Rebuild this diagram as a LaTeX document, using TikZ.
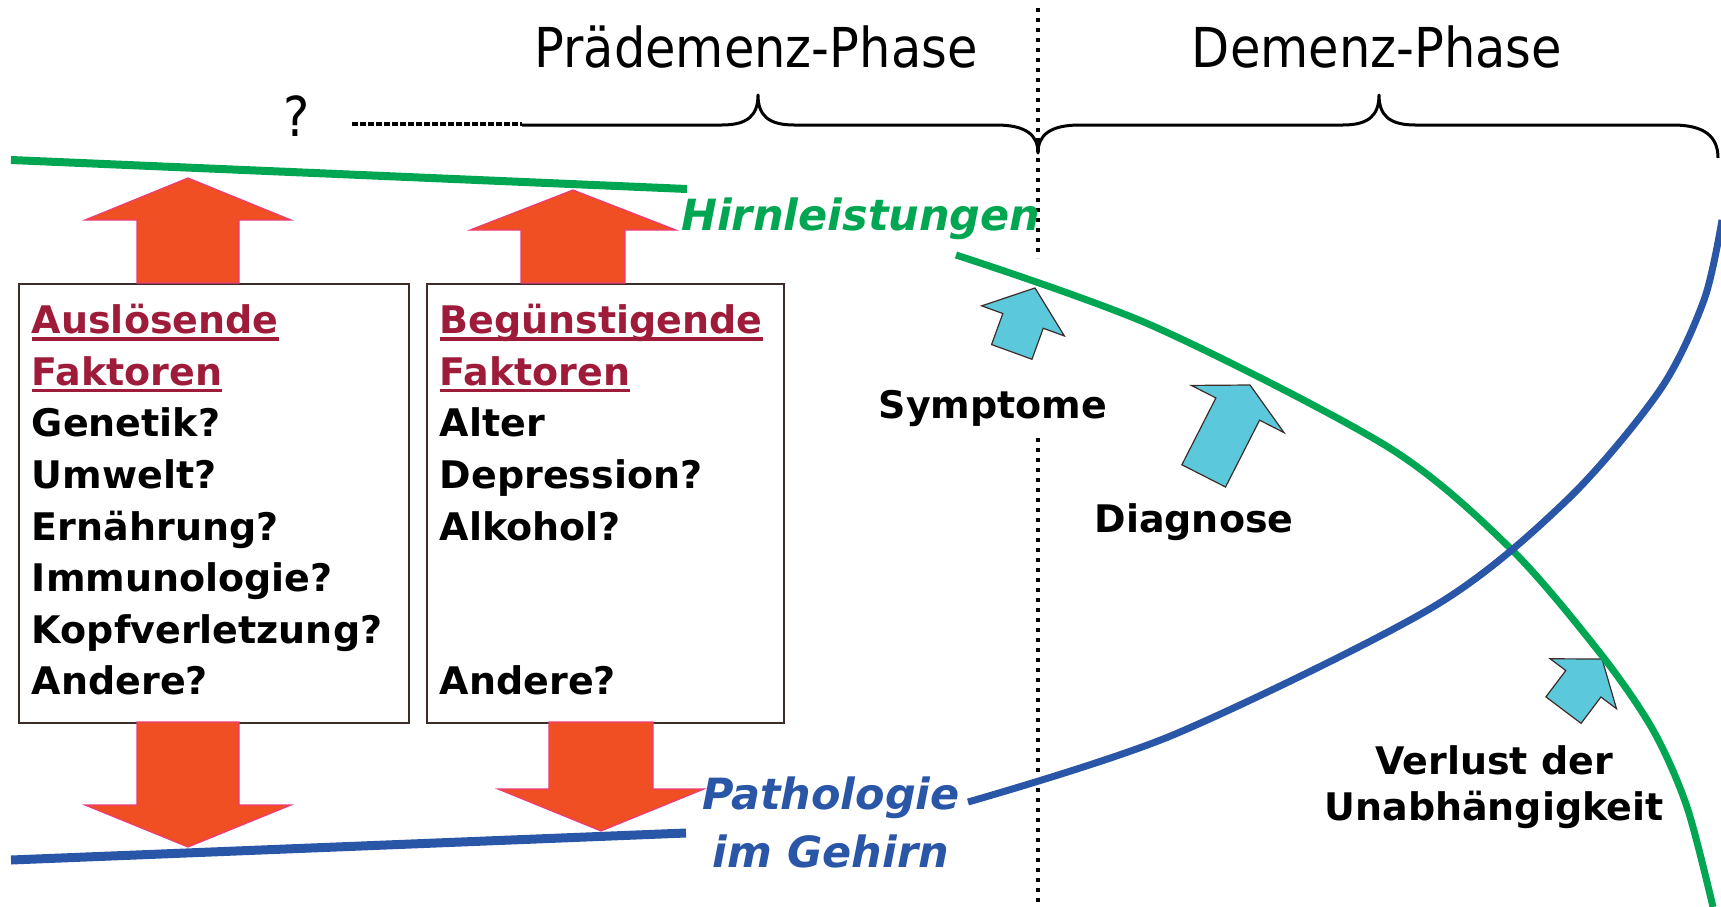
\documentclass[tikz,border=0pt]{standalone}
\usepackage{fontspec}
\setmainfont{DejaVu Sans}
\newfontfamily\phasefont{DejaVu Sans}[FakeStretch=0.9]
\usepackage{xcolor}
\usetikzlibrary{positioning}

\definecolor{brainGreen}{RGB}{0,166,81}
\definecolor{pathBlue}{RGB}{41,86,166}
\definecolor{factorRed}{RGB}{240,78,35}
\definecolor{factorPink}{RGB}{236,60,120}
\definecolor{markCyan}{RGB}{92,200,220}
\definecolor{hdred}{RGB}{158,27,58}
\definecolor{boxEdge}{RGB}{60,45,40}

% underlined box heading
\newcommand\hdr[1]{\leavevmode\textcolor{hdred}{\setbox0\hbox{#1}\rlap{\rule[-7pt]{\wd0}{3.5pt}}\box0}}
% last line of a box, a bit deeper
\newcommand\lastline[1]{#1\rule[-7.6pt]{0pt}{7.6pt}}
% tilted marker arrow: head length, head width, shaft width, length
\newcommand\markarrow[4]{%
  \filldraw[markstyle] (0,0) -- (#2/2,#1) -- (#3/2,#1) -- (#3/2,#4) -- (-#3/2,#4) -- (-#3/2,#1) -- (-#2/2,#1) -- cycle;}

\tikzset{
  factorbox/.style={draw=boxEdge, line width=1.8pt, anchor=north west, minimum height=439pt,
    inner xsep=13pt, align=left, text=black, font=\fontsize{38}{51.6}\selectfont\bfseries},
  factorarrow/.style={fill=factorRed, draw=factorPink, line width=1.2pt},
  markstyle/.style={fill=markCyan, draw=boxEdge, line width=1.2pt},
  phase/.style={font=\phasefont\fontsize{55}{60}\selectfont, inner sep=0pt, anchor=base},
  event/.style={font=\fontsize{38}{46}\selectfont\bfseries, inner sep=0pt, align=center},
  curvelabel/.style={font=\fontsize{43}{58}\selectfont\bfseries\itshape, inner sep=0pt, align=center},
  brace/.style={line width=3pt, line join=round},
  divider/.style={line width=4.5pt, dash pattern=on 4pt off 6pt},
}

\begin{document}
\begin{tikzpicture}[x=1pt, y=-1pt]
\useasboundingbox (0,0) rectangle (1721,907);

% phases
\node[phase] (prephase) at (756,67) {Prädemenz-Phase};
\node[phase] (dementia) at (1377,67) {Demenz-Phase};
\node[phase] (unknown) at (297,136) {?};
\coordinate (leadL) at (352,124);
\coordinate (leadR) at (522,124);
\draw[line width=4pt, dash pattern=on 6pt off 2pt] (leadL) -- (leadR);
\draw[brace] (522,125) -- (722,125) .. controls (748,125) and (758,115) .. (758,95)
  .. controls (758,115) and (768,125) .. (794,125) -- (996,125)
  .. controls (1026,125) and (1038,135) .. (1038,153)
  .. controls (1038,135) and (1050,125) .. (1080,125) -- (1343,125)
  .. controls (1369,125) and (1379,115) .. (1379,95)
  .. controls (1379,115) and (1389,125) .. (1415,125) -- (1673,125)
  .. controls (1705,125) and (1718,137) .. (1718,158);
\coordinate (divA) at (1038,8);
\coordinate (divB) at (1038,258);
\coordinate (divC) at (1038,438);
\coordinate (divD) at (1038,907);
\draw[divider] (divA) -- (divB);
\draw[divider] (divC) -- (divD);

% factor boxes
\node[factorbox, text width=364pt] (trigger) at (18,283) {\hdr{Auslösende}\\ \hdr{Faktoren}\\ Genetik?\\ Umwelt?\\ Ernährung?\\ Immunologie?\\ Kopfverletzung?\\ \lastline{Andere?}};
\node[factorbox, text width=331pt] (favour) at (426,283) {\hdr{Begünstigende}\\ \hdr{Faktoren}\\ Alter\\ Depression?\\ Alkohol?\\ \mbox{}\\ \mbox{}\\ \lastline{Andere?}};

\fill[factorarrow] (137,283) -- (137,220) -- (85,220) -- (188,178) -- (291,220) -- (239,220) -- (239,283) -- cycle;
\fill[factorarrow] (521,283) -- (521,230) -- (470,230) -- (573,190) -- (676,230) -- (625,230) -- (625,283) -- cycle;
\fill[factorarrow] (137,722) -- (137,805) -- (85,805) -- (188,847) -- (291,805) -- (239,805) -- (239,722) -- cycle;
\fill[factorarrow] (549,722) -- (549,789) -- (498,789) -- (601,831) -- (704,789) -- (653,789) -- (653,722) -- cycle;

% events
\begin{scope}[shift={(1035,288)}, rotate=-20] \markarrow{35}{88}{43}{68} \end{scope}
\begin{scope}[shift={(1250,385)}, rotate=-27] \markarrow{27}{104}{49}{102} \end{scope}
\begin{scope}[shift={(1602,659)}, rotate=-37] \markarrow{31}{83}{44}{64} \end{scope}
\node[event, anchor=base] (symptoms) at (993,418) {Symptome};
\node[event, anchor=base] (diagnosis) at (1194,532) {Diagnose};
\node[event, anchor=north] (dependence) at (1494,745) {Verlust der\\Unabhängigkeit};

% curves
\coordinate (greenL) at (11,160);
\coordinate (greenR) at (687,189);
\coordinate (blueL) at (11,860);
\coordinate (blueR) at (686,833);
\draw[brainGreen, line width=8pt] (greenL) -- (greenR);
\draw[pathBlue, line width=9pt] (blueL) -- (blueR);
\draw[brainGreen, line width=7pt] plot[smooth] coordinates {(956,255) (1153,326) (1388,447) (1510,548) (1600,653) (1653,730) (1687,807) (1713,907)};
\draw[pathBlue, line width=7pt] plot[smooth] coordinates {(968,802) (1173,735) (1433,607) (1567,500) (1660,390) (1704,300) (1722,220)};
\node[curvelabel, text=brainGreen, anchor=base west] (brainperf) at (681,230) {Hirnleistungen};
\node[curvelabel, text=pathBlue, anchor=north] (pathology) at (831,777) {Pathologie\\im Gehirn};
\end{tikzpicture}
\end{document}
